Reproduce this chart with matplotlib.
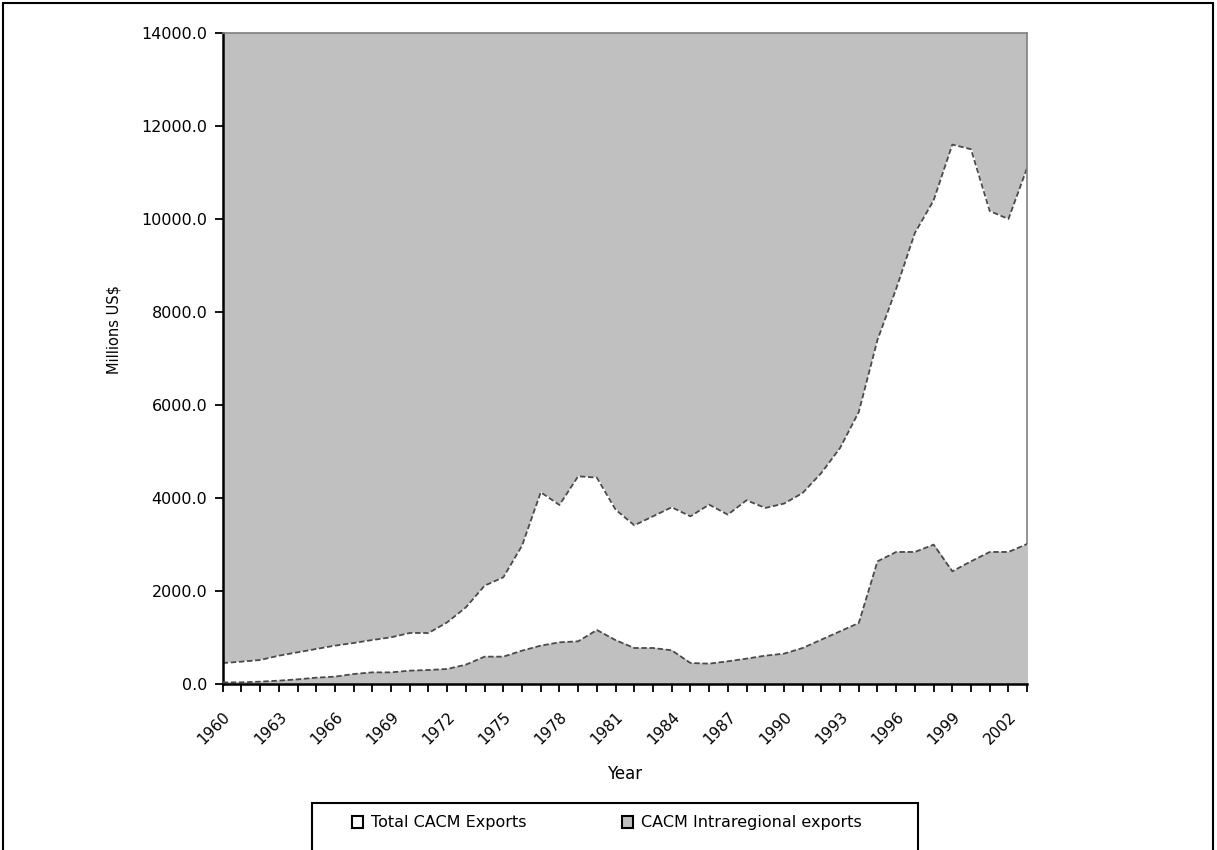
import matplotlib
matplotlib.use("Agg")
import matplotlib.pyplot as plt
from matplotlib.patches import Patch, Rectangle

# Data (millions US$)
years = list(range(1960, 2004))
total_exports = [450, 480, 516, 609, 681, 753, 825, 882, 946, 1004,
                 1097, 1097, 1326, 1649, 2115, 2294, 2975, 4123, 3850, 4467,
                 4438, 3750, 3413, 3606, 3800, 3606, 3857, 3642, 3951, 3786,
                 3879, 4108, 4539, 5076, 5850, 7400, 8500, 9700, 10400, 11600,
                 11500, 10170, 10000, 11100]
intra_exports = [33, 36, 50, 72, 100, 136, 158, 215, 250, 250,
                 287, 301, 323, 416, 588, 588, 717, 825, 896, 918,
                 1161, 943, 774, 774, 724, 452, 437, 488, 545, 609,
                 652, 774, 954, 1133, 1312, 2638, 2839, 2839, 2997, 2423,
                 2638, 2839, 2839, 3011]
labels = ["Total CACM Exports", "CACM Intraregional exports"]

gray = "#c0c0c0"
edge = "#4a4a4a"

plt.rcParams['font.family'] = ['DejaVu Sans']
fig = plt.figure(figsize=(12.17, 8.5), dpi=100)
ax = fig.add_axes([0.183, 0.1953, 0.661, 0.7659])
ax.set_facecolor(gray)

ax.fill_between(years, 0, total_exports, color="white", zorder=1)
ax.plot(years, total_exports, color=edge, lw=1.3, ls=(0, (3, 1.5)), zorder=2)
ax.fill_between(years, 0, intra_exports, color=gray, zorder=3)
ax.plot(years, intra_exports, color=edge, lw=1.3, ls=(0, (3, 1.5)), zorder=4)

ax.set_xlim(1960, 2003)
ax.set_ylim(0, 14000)
ax.set_yticks(range(0, 14001, 2000))
ax.set_yticklabels([f"{v:.1f}" for v in range(0, 14001, 2000)], fontsize=11.5)
ax.set_xticks(years[::3])
ax.set_xticklabels([str(y) for y in years[::3]], rotation=45, ha="right",
                   rotation_mode="anchor", fontsize=11)
ax.set_xticks(years, minor=True)
ax.tick_params(axis="x", which="both", length=6, width=1.3, direction="out", pad=12)
ax.tick_params(axis="y", length=6, width=1.3, direction="out", pad=5)

for s in ["left", "bottom"]:
    ax.spines[s].set_color("black")
    ax.spines[s].set_linewidth(1.8)
for s in ["top", "right"]:
    ax.spines[s].set_color("#808080")
    ax.spines[s].set_linewidth(1.2)
ax.spines["bottom"].set_zorder(6)

ax.set_ylabel("Millions US$", fontsize=10.5)
ax.yaxis.set_label_coords(-0.126, 0.544)
ax.set_xlabel("Year", fontsize=12)
ax.xaxis.set_label_coords(0.5, -0.124)

# legend box and legend entries
fig.add_artist(Rectangle((312 / 1217, -0.05), 606 / 1217, 0.05 + 47 / 850,
                         transform=fig.transFigure, fill=False,
                         edgecolor="black", lw=1.5))
handles = [Patch(facecolor="white", edgecolor="black", lw=1.5),
           Patch(facecolor=gray, edgecolor="black", lw=1.5)]
for h, lab, x0 in zip(handles, labels, [352, 622]):
    fig.legend([h], [lab], loc="center left", frameon=False,
               bbox_to_anchor=(x0 / 1217, 1 - 823 / 850), fontsize=11.5,
               borderpad=0, borderaxespad=0,
               handlelength=0.7, handleheight=0.7, handletextpad=0.5)

# outer border
fig.add_artist(Rectangle((3 / 1217, -0.05), 1210 / 1217, 1.05 - 3 / 850,
                         transform=fig.transFigure, fill=False,
                         edgecolor="black", lw=1.5))

fig.savefig("out.png", dpi=100)
